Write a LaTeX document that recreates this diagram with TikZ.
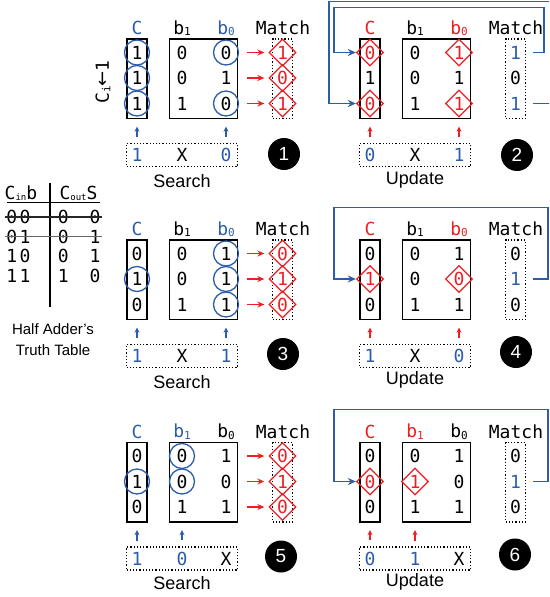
\documentclass[tikz,border=0pt]{standalone}
\usepackage{fontspec}
\setmainfont{Liberation Sans}
\setmonofont{DejaVu Sans Mono}
\newfontfamily\arrowfont{DejaVu Sans}
\usetikzlibrary{shapes.geometric,arrows.meta}

\definecolor{camblue}{RGB}{44,93,170}
\definecolor{camred}{RGB}{236,32,36}
\newcommand\cellfont{\ttfamily\fontsize{18}{20}\selectfont}
\newcommand\subsc[1]{\raisebox{-1.5pt}{\fontsize{11}{11}\selectfont #1}}
\newcommand\tsubsc[1]{\raisebox{-1pt}{\fontsize{9}{9}\selectfont #1}}

\begin{document}
\begin{tikzpicture}[
    x=1pt, y=-1pt,
    cell/.style={inner sep=0pt, font=\cellfont},
    bval/.style={cell, text=camblue},
    hit/.style={cell, circle, draw=camblue, line width=1.3pt, minimum size=25pt},
    set/.style={cell, diamond, aspect=1, draw=camred, text=camred,
                line width=1.3pt, minimum size=27pt},
    head/.style={inner sep=0pt, font=\cellfont},
    colbox/.style={draw, line width=1.3pt, minimum width=20pt, minimum height=79.5pt},
    matbox/.style={draw, line width=1.3pt, minimum width=68pt, minimum height=79.5pt},
    dotbox/.style={draw, dotted, line width=1.2pt, minimum width=19.5pt, minimum height=79.5pt},
    keybox/.style={draw, dotted, line width=1.2pt, minimum width=111pt, minimum height=23pt},
    caption/.style={font=\fontsize{18}{20}\selectfont},
    stepnum/.style={circle, fill=black, text=white, minimum size=32pt, inner sep=0pt,
                    font=\fontsize{19}{20}\selectfont},
    hitarr/.style={-{Stealth[length=7pt,width=6pt]}, camred, line width=1.2pt,
                   shorten <=8.5pt, shorten >=4pt},
    keyarr/.style={-{Stealth[length=5pt,width=5pt]}, camblue, line width=1.1pt,
                   shorten <=11pt, shorten >=7.5pt},
    updarr/.style={keyarr, camred},
    fb/.style={-{Stealth[length=8pt,width=7pt]}, camblue, line width=1.4pt},
    tcell/.style={inner sep=0pt, font=\ttfamily\fontsize{18}{20}\selectfont},
]
  \useasboundingbox (0,0) rectangle (549,597);
  \clip (0,0) rectangle (549,597);

  % Step 1: search
  \begin{scope}[shift={(0,0)}]
    \node[head, text=camblue] (p1hc) at (137,28) {C};
    \node[head] (p1hb1) at (182,28) {b\subsc{1}};
    \node[head, text=camblue] (p1hb0) at (226,28) {b\subsc{0}};
    \node[head] (p1hm) at (283,28) {Match};
    \node[colbox] (p1C) at (137,78.75) {};
    \node[matbox] (p1B) at (203.5,78.75) {};
    \node[dotbox] (p1M) at (282.5,78.75) {};
    \foreach \v/\s [count=\r] in {1/hit,1/hit,1/hit}
      \node[\s] (p1c\r) at (137,{27+25.5*\r}) {\v};
    \foreach \v/\s [count=\r] in {0/cell,0/cell,1/cell}
      \node[\s] (p1a\r) at (182,{27+25.5*\r}) {\v};
    \foreach \v/\s [count=\r] in {0/hit,1/cell,0/hit}
      \node[\s] (p1z\r) at (226,{27+25.5*\r}) {\v};
    \foreach \v/\s [count=\r] in {1/set,0/set,1/set}
      \node[\s] (p1m\r) at (282.5,{27+25.5*\r}) {\v};
    \foreach \r in {1,2,3}
      \draw[hitarr] (p1B.east |- p1m\r) -- (p1m\r.west);
    \node[keybox] (p1K) at (182,155) {};
    \node[bval] (p1k1) at (137,155) {1};
    \node[cell] (p1k2) at (182,155) {X};
    \node[bval] (p1k3) at (226,155) {0};
    \draw[keyarr] (p1k1.north) -- (p1C.south);
    \draw[keyarr] (p1k3.north) -- (p1k3 |- p1B.south);
    \node[caption] (p1cap) at (182,181) {Search};
    \node[stepnum] (p1n) at (284,154) {1};
    \node[head, rotate=90] (p1init) at (103,82) {C\subsc{i}{\arrowfont ←}1};
  \end{scope}

  % Step 2: update
  \begin{scope}[shift={(233,0)}]
    \node[head, text=camred] (p2hc) at (137,28) {C};
    \node[head] (p2hb1) at (182,28) {b\subsc{1}};
    \node[head, text=camred] (p2hb0) at (226,28) {b\subsc{0}};
    \node[head] (p2hm) at (283,28) {Match};
    \node[colbox] (p2C) at (137,78.75) {};
    \node[matbox] (p2B) at (203.5,78.75) {};
    \node[dotbox] (p2M) at (282.5,78.75) {};
    \foreach \v/\s [count=\r] in {0/set,1/cell,0/set}
      \node[\s] (p2c\r) at (137,{27+25.5*\r}) {\v};
    \foreach \v/\s [count=\r] in {0/cell,0/cell,1/cell}
      \node[\s] (p2a\r) at (182,{27+25.5*\r}) {\v};
    \foreach \v/\s [count=\r] in {1/set,1/cell,1/set}
      \node[\s] (p2z\r) at (226,{27+25.5*\r}) {\v};
    \foreach \v/\s [count=\r] in {1/bval,0/cell,1/bval}
      \node[\s] (p2m\r) at (282.5,{27+25.5*\r}) {\v};
    \draw[fb, shorten <=7pt] (p2M.east |- p2m1) -- ++(18,0) |- (101,7.5) |- (p2c1.west);
    \draw[fb, shorten <=7pt] (p2M.east |- p2m3) -- ++(27,0) |- (96,1.5) |- (p2c3.west);
    \node[keybox] (p2K) at (182,155) {};
    \node[bval] (p2k1) at (137,155) {0};
    \node[cell] (p2k2) at (182,155) {X};
    \node[bval] (p2k3) at (226,155) {1};
    \draw[updarr] (p2k1.north) -- (p2C.south);
    \draw[updarr] (p2k3.north) -- (p2k3 |- p2B.south);
    \node[caption] (p2cap) at (182,180) {Update};
    \node[stepnum] (p2n) at (284,155) {2};
  \end{scope}

  % Step 3: search
  \begin{scope}[shift={(0,201)}]
    \node[head, text=camblue] (p3hc) at (137,28) {C};
    \node[head] (p3hb1) at (182,28) {b\subsc{1}};
    \node[head, text=camblue] (p3hb0) at (226,28) {b\subsc{0}};
    \node[head] (p3hm) at (283,28) {Match};
    \node[colbox] (p3C) at (137,78.75) {};
    \node[matbox] (p3B) at (203.5,78.75) {};
    \node[dotbox] (p3M) at (282.5,78.75) {};
    \foreach \v/\s [count=\r] in {0/cell,1/hit,0/cell}
      \node[\s] (p3c\r) at (137,{27+25.5*\r}) {\v};
    \foreach \v/\s [count=\r] in {0/cell,0/cell,1/cell}
      \node[\s] (p3a\r) at (182,{27+25.5*\r}) {\v};
    \foreach \v/\s [count=\r] in {1/hit,1/hit,1/hit}
      \node[\s] (p3z\r) at (226,{27+25.5*\r}) {\v};
    \foreach \v/\s [count=\r] in {0/set,1/set,0/set}
      \node[\s] (p3m\r) at (282.5,{27+25.5*\r}) {\v};
    \foreach \r in {1,2,3}
      \draw[hitarr] (p3B.east |- p3m\r) -- (p3m\r.west);
    \node[keybox] (p3K) at (182,155) {};
    \node[bval] (p3k1) at (137,155) {1};
    \node[cell] (p3k2) at (182,155) {X};
    \node[bval] (p3k3) at (226,155) {1};
    \draw[keyarr] (p3k1.north) -- (p3C.south);
    \draw[keyarr] (p3k3.north) -- (p3k3 |- p3B.south);
    \node[caption] (p3cap) at (182,181) {Search};
    \node[stepnum] (p3n) at (283,153) {3};
  \end{scope}

  % Step 4: update
  \begin{scope}[shift={(233,201)}]
    \node[head, text=camred] (p4hc) at (137,28) {C};
    \node[head] (p4hb1) at (182,28) {b\subsc{1}};
    \node[head, text=camred] (p4hb0) at (226,28) {b\subsc{0}};
    \node[head] (p4hm) at (283,28) {Match};
    \node[colbox] (p4C) at (137,78.75) {};
    \node[matbox] (p4B) at (203.5,78.75) {};
    \node[dotbox] (p4M) at (282.5,78.75) {};
    \foreach \v/\s [count=\r] in {0/cell,1/set,0/cell}
      \node[\s] (p4c\r) at (137,{27+25.5*\r}) {\v};
    \foreach \v/\s [count=\r] in {0/cell,0/cell,1/cell}
      \node[\s] (p4a\r) at (182,{27+25.5*\r}) {\v};
    \foreach \v/\s [count=\r] in {1/cell,0/set,1/cell}
      \node[\s] (p4z\r) at (226,{27+25.5*\r}) {\v};
    \foreach \v/\s [count=\r] in {0/cell,1/bval,0/cell}
      \node[\s] (p4m\r) at (282.5,{27+25.5*\r}) {\v};
    \draw[fb, shorten <=7pt] (p4M.east |- p4m2) -- ++(22,0) |- (101,6.5) |- (p4c2.west);
    \node[keybox] (p4K) at (182,155) {};
    \node[bval] (p4k1) at (137,155) {1};
    \node[cell] (p4k2) at (182,155) {X};
    \node[bval] (p4k3) at (226,155) {0};
    \draw[updarr] (p4k1.north) -- (p4C.south);
    \draw[updarr] (p4k3.north) -- (p4k3 |- p4B.south);
    \node[caption] (p4cap) at (182,179) {Update};
    \node[stepnum] (p4n) at (283,151) {4};
  \end{scope}

  % Step 5: search
  \begin{scope}[shift={(0,403.5)}]
    \node[head, text=camblue] (p5hc) at (137,28) {C};
    \node[head, text=camblue] (p5hb1) at (182,28) {b\subsc{1}};
    \node[head] (p5hb0) at (226,28) {b\subsc{0}};
    \node[head] (p5hm) at (283,28) {Match};
    \node[colbox] (p5C) at (137,78.75) {};
    \node[matbox] (p5B) at (203.5,78.75) {};
    \node[dotbox] (p5M) at (282.5,78.75) {};
    \foreach \v/\s [count=\r] in {0/cell,1/hit,0/cell}
      \node[\s] (p5c\r) at (137,{27+25.5*\r}) {\v};
    \foreach \v/\s [count=\r] in {0/hit,0/hit,1/cell}
      \node[\s] (p5a\r) at (182,{27+25.5*\r}) {\v};
    \foreach \v/\s [count=\r] in {1/cell,0/cell,1/cell}
      \node[\s] (p5z\r) at (226,{27+25.5*\r}) {\v};
    \foreach \v/\s [count=\r] in {0/set,1/set,0/set}
      \node[\s] (p5m\r) at (282.5,{27+25.5*\r}) {\v};
    \foreach \r in {1,2,3}
      \draw[hitarr] (p5B.east |- p5m\r) -- (p5m\r.west);
    \node[keybox] (p5K) at (182,155) {};
    \node[bval] (p5k1) at (137,155) {1};
    \node[bval] (p5k2) at (182,155) {0};
    \node[cell] (p5k3) at (226,155) {X};
    \draw[keyarr] (p5k1.north) -- (p5C.south);
    \draw[keyarr] (p5k2.north) -- (p5k2 |- p5B.south);
    \node[caption] (p5cap) at (182,180) {Search};
    \node[stepnum] (p5n) at (281,153) {5};
  \end{scope}

  % Step 6: update
  \begin{scope}[shift={(233,403.5)}]
    \node[head, text=camred] (p6hc) at (137,28) {C};
    \node[head, text=camred] (p6hb1) at (182,28) {b\subsc{1}};
    \node[head] (p6hb0) at (226,28) {b\subsc{0}};
    \node[head] (p6hm) at (283,28) {Match};
    \node[colbox] (p6C) at (137,78.75) {};
    \node[matbox] (p6B) at (203.5,78.75) {};
    \node[dotbox] (p6M) at (282.5,78.75) {};
    \foreach \v/\s [count=\r] in {0/cell,0/set,0/cell}
      \node[\s] (p6c\r) at (137,{27+25.5*\r}) {\v};
    \foreach \v/\s [count=\r] in {0/cell,1/set,1/cell}
      \node[\s] (p6a\r) at (182,{27+25.5*\r}) {\v};
    \foreach \v/\s [count=\r] in {1/cell,0/cell,1/cell}
      \node[\s] (p6z\r) at (226,{27+25.5*\r}) {\v};
    \foreach \v/\s [count=\r] in {0/cell,1/bval,0/cell}
      \node[\s] (p6m\r) at (282.5,{27+25.5*\r}) {\v};
    \draw[fb, shorten <=7pt] (p6M.east |- p6m2) -- ++(22,0) |- (101,6) |- (p6c2.west);
    \node[keybox] (p6K) at (182,155) {};
    \node[bval] (p6k1) at (137,155) {0};
    \node[bval] (p6k2) at (182,155) {1};
    \node[cell] (p6k3) at (226,155) {X};
    \draw[updarr] (p6k1.north) -- (p6C.south);
    \draw[updarr] (p6k2.north) -- (p6k2 |- p6B.south);
    \node[caption] (p6cap) at (182,178) {Update};
    \node[stepnum] (p6n) at (282,151) {6};
  \end{scope}

  % Half adder truth table
  \node[head] (thl) at (21,193) {C\tsubsc{in}b};
  \node[head] (thr) at (78.5,193) {C\tsubsc{out}S};
  \draw[line width=1.2pt] (50,183) -- (50,306.5);
  \draw[line width=1.2pt] (6.5,202.5) -- (100,202.5);
  \foreach \a/\b/\c/\d [count=\r] in {0/0/0/0,0/1/0/1,1/0/0/1,1/1/1/0} {
    \node[tcell] (t\r a) at (11.7,{197.3+19.7*\r}) {\a};
    \node[tcell] (t\r b) at (25,{197.3+19.7*\r}) {\b};
    \node[tcell] (t\r c) at (63.3,{197.3+19.7*\r}) {\c};
    \node[tcell] (t\r d) at (95,{197.3+19.7*\r}) {\d};
  }
  \draw[line width=1.1pt, black!85] ([xshift=-1pt]t1a.west) -- ([xshift=1pt]t1d.east);
  \draw[line width=1.1pt, black!60] ([xshift=-1pt]t2a.west) -- ([xshift=1pt]t2d.east);
  \node[align=center, inner sep=0pt, font=\fontsize{15}{21}\selectfont] (tcap) at (53,339.5)
    {Half Adder's\\Truth Table};

\end{tikzpicture}
\end{document}
